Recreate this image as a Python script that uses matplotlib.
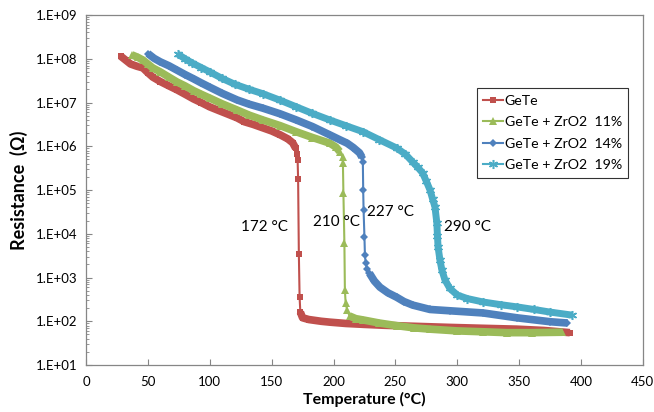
import numpy as np
import matplotlib
matplotlib.use('Agg')
import matplotlib.pyplot as plt
from matplotlib.ticker import FixedLocator, LogLocator, FuncFormatter, NullFormatter

# values (temperature in C, log10 of resistance in ohm)
gete_t = [28, 32, 36, 41, 46, 50, 54, 60, 67, 73.5, 80, 87, 93, 100, 107, 115, 122, 128,
          135, 143, 150, 157, 163, 167, 169.5, 170.5, 171.0, 171.4, 172.0, 172.6, 173.2,
          175, 180, 190, 197, 210, 224, 240, 260, 294, 320, 348, 370, 391]
gete_logr = [8.06, 7.97, 7.88, 7.83, 7.79, 7.68, 7.58, 7.48, 7.38, 7.29, 7.19, 7.08, 7.00,
             6.90, 6.82, 6.73, 6.65, 6.56, 6.50, 6.42, 6.35, 6.26, 6.17, 6.08, 5.95, 5.82,
             5.69, 5.25, 3.54, 2.55, 2.21, 2.08, 2.04, 2.00, 1.98, 1.95, 1.93, 1.91, 1.89,
             1.86, 1.84, 1.82, 1.79, 1.74]

zr11_t = [37, 42, 46, 50, 54, 60, 67, 73.5, 80, 87, 93, 100, 110, 122, 132, 143, 157, 170,
          183, 197, 202, 205, 207.3, 207.6, 208.0, 208.8, 209.2, 209.8, 211, 213, 218, 224,
          237, 251, 265, 278, 300, 321, 340, 360, 385]
zr11_logr = [8.09, 8.03, 7.97, 7.88, 7.79, 7.70, 7.58, 7.47, 7.38, 7.27, 7.19, 7.10, 6.97,
             6.83, 6.71, 6.60, 6.47, 6.33, 6.20, 6.07, 5.98, 5.88, 5.75, 5.62, 4.93, 3.79,
             2.71, 2.42, 2.26, 2.12, 2.06, 2.03, 1.96, 1.90, 1.85, 1.82, 1.78, 1.76, 1.74,
             1.74, 1.75]

zr14_t = [50, 55, 60, 67, 73.5, 80, 87, 93, 100, 110, 122, 132, 143, 157, 170, 183, 197,
          205, 211, 216, 221, 223, 223.7, 224.0, 224.3, 225.0, 225.4, 226, 227, 229, 233,
          237.5, 244, 251, 257, 264, 278, 294, 321, 348, 375, 389]
zr14_logr = [8.12, 8.01, 7.93, 7.84, 7.74, 7.64, 7.54, 7.45, 7.35, 7.21, 7.06, 6.96, 6.87,
             6.74, 6.60, 6.45, 6.26, 6.15, 6.07, 5.97, 5.85, 5.75, 5.65, 5.00, 4.54, 3.93,
             3.51, 3.33, 3.20, 3.10, 2.92, 2.78, 2.65, 2.55, 2.45, 2.37, 2.27, 2.24, 2.19,
             2.08, 1.99, 1.96]

zr19_t = [74, 80, 86, 93, 100, 110, 120, 132, 143, 157, 170, 183, 197, 210, 224, 237, 251,
          258, 264, 268, 272, 275, 278, 280, 282, 283.5, 284, 284.5, 286, 287.6, 290, 294,
          300, 308, 321, 335, 348, 362, 375, 393]
zr19_logr = [8.11, 8.00, 7.90, 7.80, 7.70, 7.55, 7.42, 7.30, 7.20, 7.05, 6.90, 6.75, 6.60,
             6.47, 6.33, 6.15, 5.96, 5.82, 5.64, 5.52, 5.39, 5.20, 5.00, 4.80, 4.61, 4.25,
             3.95, 3.70, 3.40, 3.17, 2.95, 2.75, 2.60, 2.52, 2.44, 2.38, 2.33, 2.27, 2.21,
             2.14]

labels = ["GeTe", "GeTe + ZrO2  11%", "GeTe + ZrO2  14%", "GeTe + ZrO2  19%"]
transitions = ["172 \u00b0C", "210 \u00b0C", "227 \u00b0C", "290 \u00b0C"]

plt.rcParams['font.family'] = ['Lato', 'DejaVu Sans']

series = [
    (gete_t, gete_logr, "#C0504D", "s", 5.0, 0.0, (5.9, 2.25)),
    (zr11_t, zr11_logr, "#9BBB59", "^", 6.0, 0.0, (5.85, 2.15)),
    (zr14_t, zr14_logr, "#4F81BD", "D", 4.5, 0.0, (5.72, 3.15)),
    (zr19_t, zr19_logr, "#4BACC6", (6, 2, 0), 6.5, 1.1, None),
]

fig = plt.figure(figsize=(6.54, 4.12), dpi=100)
ax = fig.add_axes([0.1315, 0.114, 0.8515, 0.8496])

for (t, lr, col, mk, ms, mew, knee), lab in zip(series, labels):
    t = np.array(t)
    r = 10 ** np.array(lr)
    # dense measurement stretches look like a solid band of markers
    if knee is None:
        ax.plot(t, r, color=col, lw=5.0, solid_capstyle='butt', solid_joinstyle='round')
    else:
        hi, lo = knee
        pre = np.array(lr) >= hi
        post = np.array(lr) <= lo
        ax.plot(t[pre], r[pre], color=col, lw=5.5, solid_capstyle='butt', solid_joinstyle='round')
        ax.plot(t[post], r[post], color=col, lw=5.5, solid_capstyle='butt', solid_joinstyle='round')
    ax.plot(t, r, color=col, lw=1.5, marker=mk, ms=ms, mew=mew, mec=col, mfc=col, label=lab)

ax.text(144.6, 10 ** 4.155, transitions[0], fontsize=11, ha='center', va='center')
ax.text(202.7, 10 ** 4.27, transitions[1], fontsize=11, ha='center', va='center')
ax.text(246.4, 10 ** 4.497, transitions[2], fontsize=11, ha='center', va='center')
ax.text(308.6, 10 ** 4.155, transitions[3], fontsize=11, ha='center', va='center')

ax.set_yscale('log')
ax.set_xlim(0, 450)
ax.set_ylim(1e1, 1e9)
ax.xaxis.set_major_locator(FixedLocator(np.arange(0, 451, 50)))
ax.yaxis.set_major_locator(LogLocator(base=10, numticks=20))
ax.yaxis.set_minor_locator(LogLocator(base=10, subs=np.arange(2, 10), numticks=20))
ax.yaxis.set_major_formatter(FuncFormatter(lambda v, p: "1.E+%02d" % int(round(np.log10(v)))))
ax.yaxis.set_minor_formatter(NullFormatter())

ax.tick_params(axis='both', which='major', direction='in', length=4, width=0.8,
               color='#868686', labelsize=9.5, labelcolor='black')
ax.tick_params(axis='y', which='minor', direction='in', length=2, width=0.6, color='#868686')
ax.tick_params(axis='x', pad=8)
ax.tick_params(axis='y', pad=6)
for s in ax.spines.values():
    s.set_color('#868686')
    s.set_linewidth(0.9)

ax.set_xlabel("Temperature (\u00b0C)", fontsize=11.5, fontweight='bold')
ax.set_ylabel("Resistance  (\u03a9)", fontsize=13, fontweight='bold')
ax.xaxis.set_label_coords(0.5, -0.078)
ax.yaxis.set_label_coords(-0.104, 0.5)

leg = fig.legend(loc='upper left', bbox_to_anchor=(0.7295, 0.786), fontsize=10.2,
                 frameon=True, fancybox=False, borderaxespad=0, handlelength=1.4,
                 handletextpad=0.1, labelspacing=0.68, borderpad=0.45)
leg.get_frame().set_edgecolor('black')
leg.get_frame().set_linewidth(0.8)

plt.savefig("out.png", dpi=100)
